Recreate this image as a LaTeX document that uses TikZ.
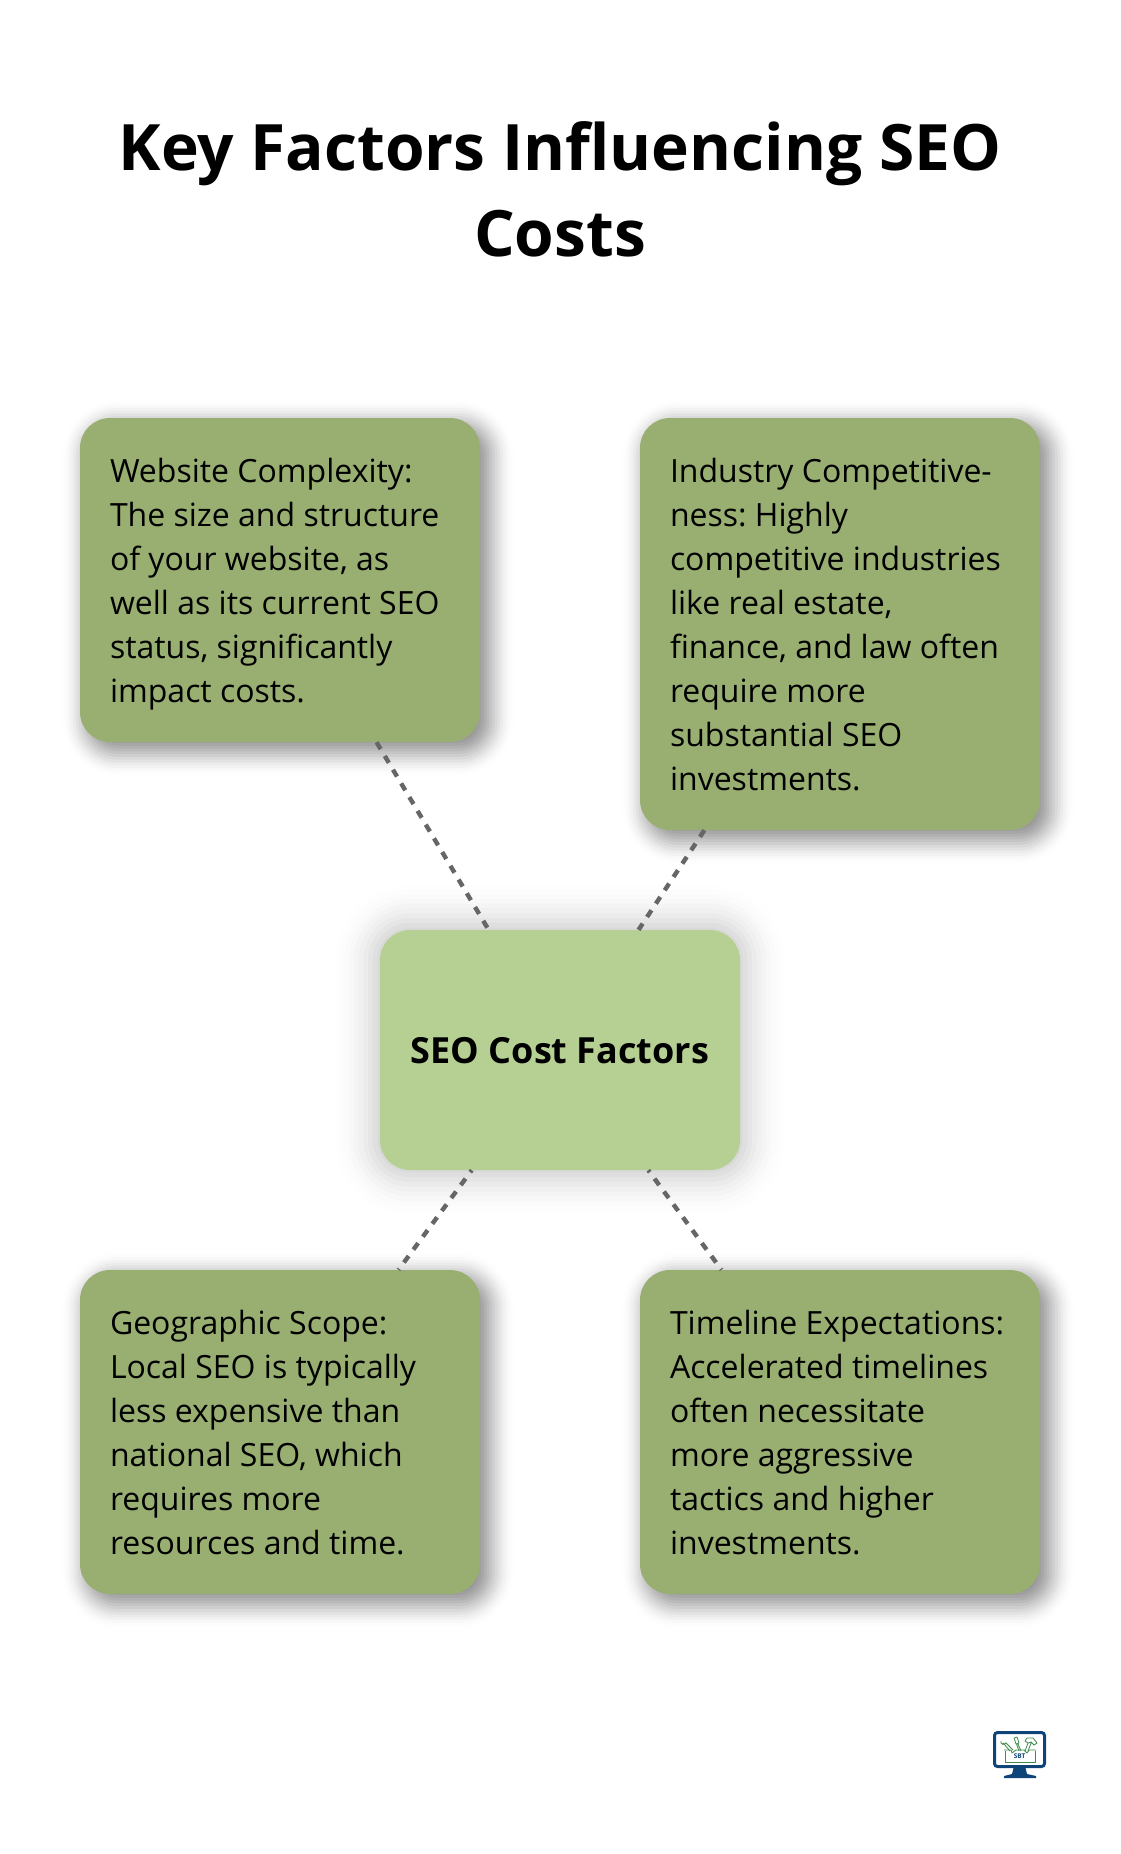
\documentclass[tikz,border=0pt]{standalone}
\usepackage{fontspec}
\setmainfont{Open Sans}
\usetikzlibrary{calc}
\definecolor{boxgreen}{RGB}{153,175,114}
\definecolor{hubgreen}{RGB}{182,208,148}
\definecolor{dashgrey}{RGB}{102,102,102}
\definecolor{navy}{RGB}{15,68,120}
\definecolor{toolgreen}{RGB}{60,140,70}
\newcommand{\topst}{\rule{0pt}{34pt}}
\newcommand{\botst}{\rule[-10pt]{0pt}{10pt}}
\tikzset{
  x=1pt,y=-1pt,
  factorbox/.style={shape=rectangle,rounded corners=30pt,fill=boxgreen,inner sep=0pt,minimum width=400pt,
    text width=340pt,align=flush left,text=black,font=\fontsize{32}{44}\selectfont},
  hubbox/.style={shape=rectangle,rounded corners=30pt,fill=hubgreen,inner sep=0pt,minimum width=360pt,minimum height=240pt,
    align=center,text=black,font=\fontsize{36}{44}\selectfont\bfseries},
  titletext/.style={align=center,text=black,font=\fontsize{64}{86}\selectfont\bfseries},
  link/.style={draw=dashgrey,line width=4.4pt,dash pattern=on 8pt off 8pt},
  iconline/.style={draw=toolgreen,line width=0.8pt,fill=none,line join=round},
}
\newcommand{\softshadow}[6]{%
  \foreach \k in {0,...,23}{
    \pgfmathsetmacro{\grow}{#6*(1-\k/23)-#6/2}
    \pgfmathsetmacro{\stepop}{#5*2*sin(180*(\k+0.5)/24)^2}
    \fill[black,opacity=\stepop,rounded corners={max(4,30+\grow)*1pt}]
      ($(#1,#2)+(-#3/2-\grow,-#4/2-\grow)$) rectangle ($(#1,#2)+(#3/2+\grow,#4/2+\grow)$);
  }
}
\begin{document}
\frenchspacing
\begin{tikzpicture}
\useasboundingbox (0,0) rectangle (1120,1854);
\fill[white] (0,0) rectangle (1120,1854);
\softshadow{288}{588}{400}{324}{0.025}{64}
\softshadow{848}{632}{400}{412}{0.025}{64}
\softshadow{288}{1440}{400}{324}{0.025}{64}
\softshadow{848}{1440}{400}{324}{0.025}{64}
\softshadow{560}{1050}{360}{240}{0.0125}{110}
\node[titletext] (title) at (560,189.5) {Key Factors Influencing SEO\\Costs};
\node[factorbox,minimum height=324pt] (complexity) at (280,580) {\topst Website Complexity:\\The size and structure\\of your website, as\\well as its current SEO\\status, significantly\\impact costs.\botst};
\node[factorbox,minimum height=412pt] (industry) at (840,624) {\topst Industry Competitive-\\ness: Highly\\competitive industries\\like real estate,\\finance, and law often\\require more\\substantial SEO\\investments.\botst};
\node[hubbox] (hub) at (560,1050) {\raisebox{0pt}[26pt][0pt]{SEO Cost Factors}};
\node[factorbox,minimum height=324pt] (geo) at (280,1432) {\topst Geographic Scope:\\Local SEO is typically\\less expensive than\\national SEO, which\\requires more\\resources and time.\botst};
\node[factorbox,minimum height=324pt] (time) at (840,1432) {\topst Timeline Expectations:\\Accelerated timelines\\often necessitate\\more aggressive\\tactics and higher\\investments.\botst};
\draw[link] (complexity) -- (hub);
\draw[link] (industry) -- (hub);
\draw[link,dash phase=5.5pt] (hub) -- (geo);
\draw[link,dash phase=5.5pt] (hub) -- (time);
% logo
\node[draw=navy,line width=3pt,rounded corners=3pt,minimum width=50pt,minimum height=34pt,inner sep=0pt] (screen) at (1019.5,1749.5) {};
\fill[navy] (1014,1766) -- (1025,1766) -- (1027,1774) -- (1036,1776) -- (1036,1778) -- (1004,1778) -- (1004,1776) -- (1012,1774) -- cycle;
\draw[iconline] (1005,1751) -- (1005,1762) -- (1035,1762) -- (1035,1751);
\draw[iconline] (1004,1750) -- (1011,1750) -- (1012,1753) -- (1016,1750) -- (1024,1750) -- (1027,1753) -- (1029,1750) -- (1036,1750);
% wrench
\draw[iconline] (1001,1741) arc (200:20:2.6) -- (1006,1743) -- (1013,1750) (1002,1744) -- (1004,1743) (1004,1744) -- (1010,1751);
% screwdriver
\draw[iconline] (1014,1738) -- (1017,1737) -- (1019,1743) -- (1016,1744) -- cycle (1018,1744) -- (1021,1751) (1016.5,1744) -- (1019,1751);
% hammer
\draw[iconline] (1025,1741) -- (1027,1738) -- (1033,1738) -- (1037,1743) -- (1034,1745) -- (1031,1742) -- (1028,1743) -- cycle (1028,1743) -- (1025,1751) (1031,1743) -- (1028,1751);
\node[text=navy,font=\fontsize{6.5}{6.5}\selectfont\bfseries,inner sep=0pt] (sbt) at (1019.5,1756.5) {SBT};
\end{tikzpicture}
\end{document}
